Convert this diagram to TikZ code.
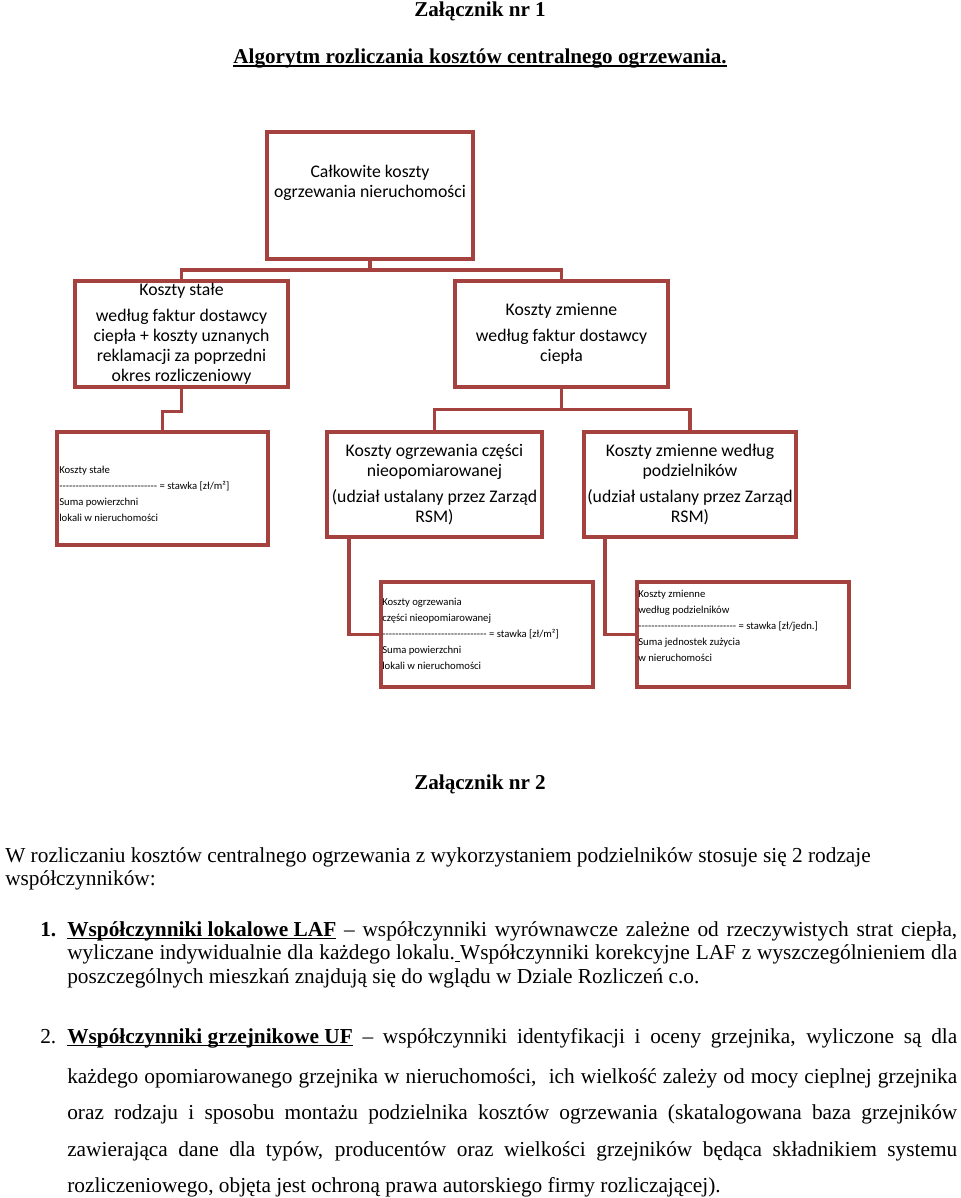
\documentclass[tikz,border=0pt]{standalone}
\usepackage{fontspec}
\setmainfont{Liberation Serif}
\newfontfamily\boxfont[Ligatures=TeXOff]{Carlito}
\definecolor{boxred}{RGB}{165,66,64}
\newdimen\pxu \pxu=0.75pt
\newcommand\udl[2][1.1pt]{\setbox0\hbox{#2}\rlap{\rule[-2.4pt]{\wd0}{#1}}\box0\relax}
\newcommand\jline[1]{\makebox[890\pxu][s]{#1}}
\begin{document}
\begin{tikzpicture}[x=0.75pt,y=-0.75pt,
  costbox/.style={draw=boxred,line width=2.3pt,fill=white,inner sep=0pt},
  wire/.style={draw=boxred,line width=2.3pt},
  boxtext/.style={font=\boxfont\fontsize{13.3}{14.9}\selectfont,align=center,inner sep=0pt},
  formtext/.style={font=\boxfont\fontsize{8}{12}\selectfont,align=left,inner sep=0pt,anchor=west},
  body/.style={font=\fontsize{16}{19}\selectfont,inner sep=0pt,anchor=base west},
  head/.style={font=\bfseries\fontsize{15.85}{19}\selectfont,inner sep=0pt,anchor=base}]
\useasboundingbox[fill=white] (0,0) rectangle (960,1198);
% headings
\node[head] (annex1) at (480,17) {Załącznik nr 1};
\node[head] (title) at (480,64) {\udl[1.4pt]{Algorytm rozliczania kosztów centralnego ogrzewania.}};
% tree of costs
\node[costbox,minimum width=206\pxu,minimum height=127\pxu] (total) at (370,195.5) {};
\node[boxtext] (totaltxt) at (370,183) {Całkowite koszty\\ogrzewania nieruchomości};
\node[costbox,boxtext,minimum width=213\pxu,minimum height=106\pxu] (fixed) at (181.5,334)
  {Koszty stałe\\[6\pxu]według faktur dostawcy\\ciepła + koszty uznanych\\reklamacji za poprzedni\\okres rozliczeniowy};
\node[costbox,boxtext,minimum width=213\pxu,minimum height=106\pxu] (var) at (561.5,334)
  {Koszty zmienne\\[6\pxu]według faktur dostawcy\\ciepła};
\node[costbox,minimum width=211\pxu,minimum height=113\pxu] (fixrate) at (162.5,488.5) {};
\node[formtext] (fixratetxt) at (59,494) {Koszty stałe\\------------------------------ = stawka [zł/m²]\\Suma powierzchni\\lokali w nieruchomości};
\node[costbox,boxtext,minimum width=215\pxu,minimum height=105\pxu] (nonmet) at (434.5,484.5)
  {Koszty ogrzewania części\\nieopomiarowanej\\[6\pxu](udział ustalany przez Zarząd\\RSM)};
\node[costbox,boxtext,minimum width=212\pxu,minimum height=105\pxu] (meter) at (690,484.5)
  {Koszty zmienne według\\podzielników\\[6\pxu](udział ustalany przez Zarząd\\RSM)};
\node[costbox,minimum width=212\pxu,minimum height=105\pxu] (nonmetrate) at (487,634.5) {};
\node[formtext] (nonmetratetxt) at (382,634) {Koszty ogrzewania\\części nieopomiarowanej\\-------------------------------- = stawka [zł/m²]\\Suma powierzchni\\lokali w nieruchomości};
\node[costbox,minimum width=212\pxu,minimum height=105\pxu] (meterrate) at (743,634.5) {};
\node[formtext] (meterratetxt) at (638,626) {Koszty zmienne\\według podzielników\\------------------------------ = stawka [zł/jedn.]\\Suma jednostek zużycia\\w nieruchomości};
% connectors
\coordinate (split1) at (370,270);
\draw[wire] (total.south) -- (split1);
\draw[wire] (fixed.north) |- (split1) -| (var.north);
\draw[wire] (fixed.south) -- ++(0,23) -| (fixrate.north);
\draw[wire] (var.south) -- ++(0,21) coordinate (split2);
\draw[wire] (nonmet.north) |- (split2) -| (meter.north);
\draw[wire] ([xshift=-85.5\pxu]nonmet.south) |- (nonmetrate.west);
\draw[wire] ([xshift=-85\pxu]meter.south) |- (meterrate.west);
% annex 2
\node[head] (annex2) at (480,789) {Załącznik nr 2};
\node[body] (introa) at (5,862) {W rozliczaniu kosztów centralnego ogrzewania z wykorzystaniem podzielników stosuje się 2 rodzaje};
\node[body] (introb) at (5,885) {współczynników:};
\node[body] (num1) at (40,936) {\textbf{1.}};
\node[body] (laf1) at (67,936) {\jline{\udl{\textbf{Współczynniki lokalowe LAF}} – współczynniki wyrównawcze zależne od rzeczywistych strat ciepła,}};
\node[body] (laf2) at (67,959) {\jline{wyliczane indywidualnie dla każdego lokalu.\udl{ }Współczynniki korekcyjne LAF z wyszczególnieniem dla}};
\node[body] (laf3) at (67,983) {poszczególnych mieszkań znajdują się do wglądu w Dziale Rozliczeń c.o.};
\node[body] (num2) at (40,1043) {2.};
\node[body] (uf1) at (67,1043) {\jline{\udl{\textbf{Współczynniki grzejnikowe UF}} – współczynniki identyfikacji i oceny grzejnika, wyliczone są dla}};
\node[body] (uf2) at (67,1083) {\jline{każdego opomiarowanego grzejnika w nieruchomości,\ \ ich wielkość zależy od mocy cieplnej grzejnika}};
\node[body] (uf3) at (67,1119) {\jline{oraz rodzaju i sposobu montażu podzielnika kosztów ogrzewania (skatalogowana baza grzejników}};
\node[body] (uf4) at (67,1156) {\jline{zawierająca dane dla typów, producentów oraz wielkości grzejników będąca składnikiem systemu}};
\node[body] (uf5) at (67,1192) {rozliczeniowego, objęta jest ochroną prawa autorskiego firmy rozliczającej).};
\end{tikzpicture}
\end{document}
